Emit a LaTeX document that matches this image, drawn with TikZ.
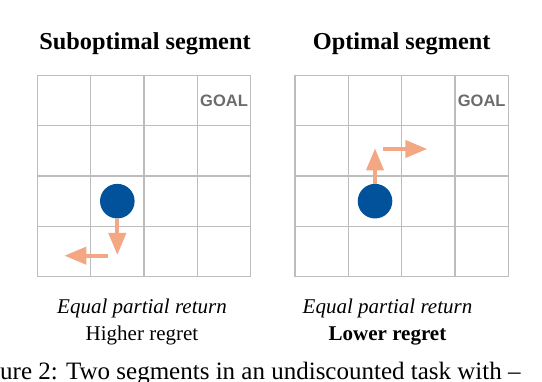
\documentclass[tikz,border=0pt]{standalone}
\usepackage{fontspec}
\setmainfont{Liberation Serif}
\newfontfamily\goalfont{Liberation Sans}
\usetikzlibrary{arrows.meta}
\definecolor{gridgray}{HTML}{BDBDBD}
\definecolor{agentblue}{HTML}{01529B}
\definecolor{movesalmon}{HTML}{F3A783}
\definecolor{goalgray}{HTML}{6B6B6B}

\begin{document}
\begin{tikzpicture}[x=1pt,y=1pt,inner sep=0pt,
  gridline/.style={draw=gridgray,line width=1.3pt},
  agent/.style={circle,fill=agentblue,minimum size=34.6pt},
  move/.style={draw=movesalmon,line width=4pt,-{Triangle[length=22pt,width=17pt]}},
  goal/.style={text=goalgray,font=\goalfont\bfseries\fontsize{16.5}{16.5}\selectfont},
  title/.style={anchor=base,font=\bfseries\fontsize{24.3}{28}\selectfont},
  note/.style={anchor=base,font=\fontsize{21}{25}\selectfont}]
\def\cw{53.35}
\def\ch{50.35}
\useasboundingbox (0,0) rectangle (542,382);

% suboptimal segment
\begin{scope}[shift={(37.3,105.3)}]
\foreach \i in {0,...,4} {
  \draw[gridline] (\i*\cw,0) -- (\i*\cw,4*\ch);
  \draw[gridline] (0,\i*\ch) -- (4*\cw,\i*\ch);
}
\node[goal] (lgoal) at (3.5*\cw,3.5*\ch) {GOAL};
\node[agent] (lagent) at (1.5*\cw,1.5*\ch) {};
\coordinate (ldown) at (1.5*\cw,21.7);
\coordinate (lleft0) at (71,21);
\coordinate (lleft1) at (27,21);
\draw[move] (lagent.south) -- (ldown);
\draw[move] (lleft0) -- (lleft1);
\end{scope}

% optimal segment
\begin{scope}[shift={(295,105.3)}]
\foreach \i in {0,...,4} {
  \draw[gridline] (\i*\cw,0) -- (\i*\cw,4*\ch);
  \draw[gridline] (0,\i*\ch) -- (4*\cw,\i*\ch);
}
\node[goal] (rgoal) at (3.5*\cw,3.5*\ch) {GOAL};
\node[agent] (ragent) at (1.5*\cw,1.5*\ch) {};
\coordinate (rup) at (1.5*\cw,128.4);
\coordinate (rright0) at (88.3,127.7);
\coordinate (rright1) at (132.3,127.7);
\draw[move] (ragent.north) -- (rup);
\draw[move] (rright0) -- (rright1);
\end{scope}

\node[title] (ltitle) at (145,332) {Suboptimal segment};
\node[title] (rtitle) at (401.7,332) {Optimal segment};
\node[note] (lnote1) at (142,68.7) {\itshape Equal partial return};
\node[note] (lnote2) at (142,41) {Higher regret};
\node[note] (rnote1) at (387.5,68.7) {\itshape Equal partial return};
\node[note] (rnote2) at (387.5,41) {\bfseries Lower regret};
\node[anchor=base west,font=\fontsize{25}{29}\selectfont] (caption) at (0,2) {ure 2: Two segments in an undiscounted task with \textendash};
\end{tikzpicture}
\end{document}
